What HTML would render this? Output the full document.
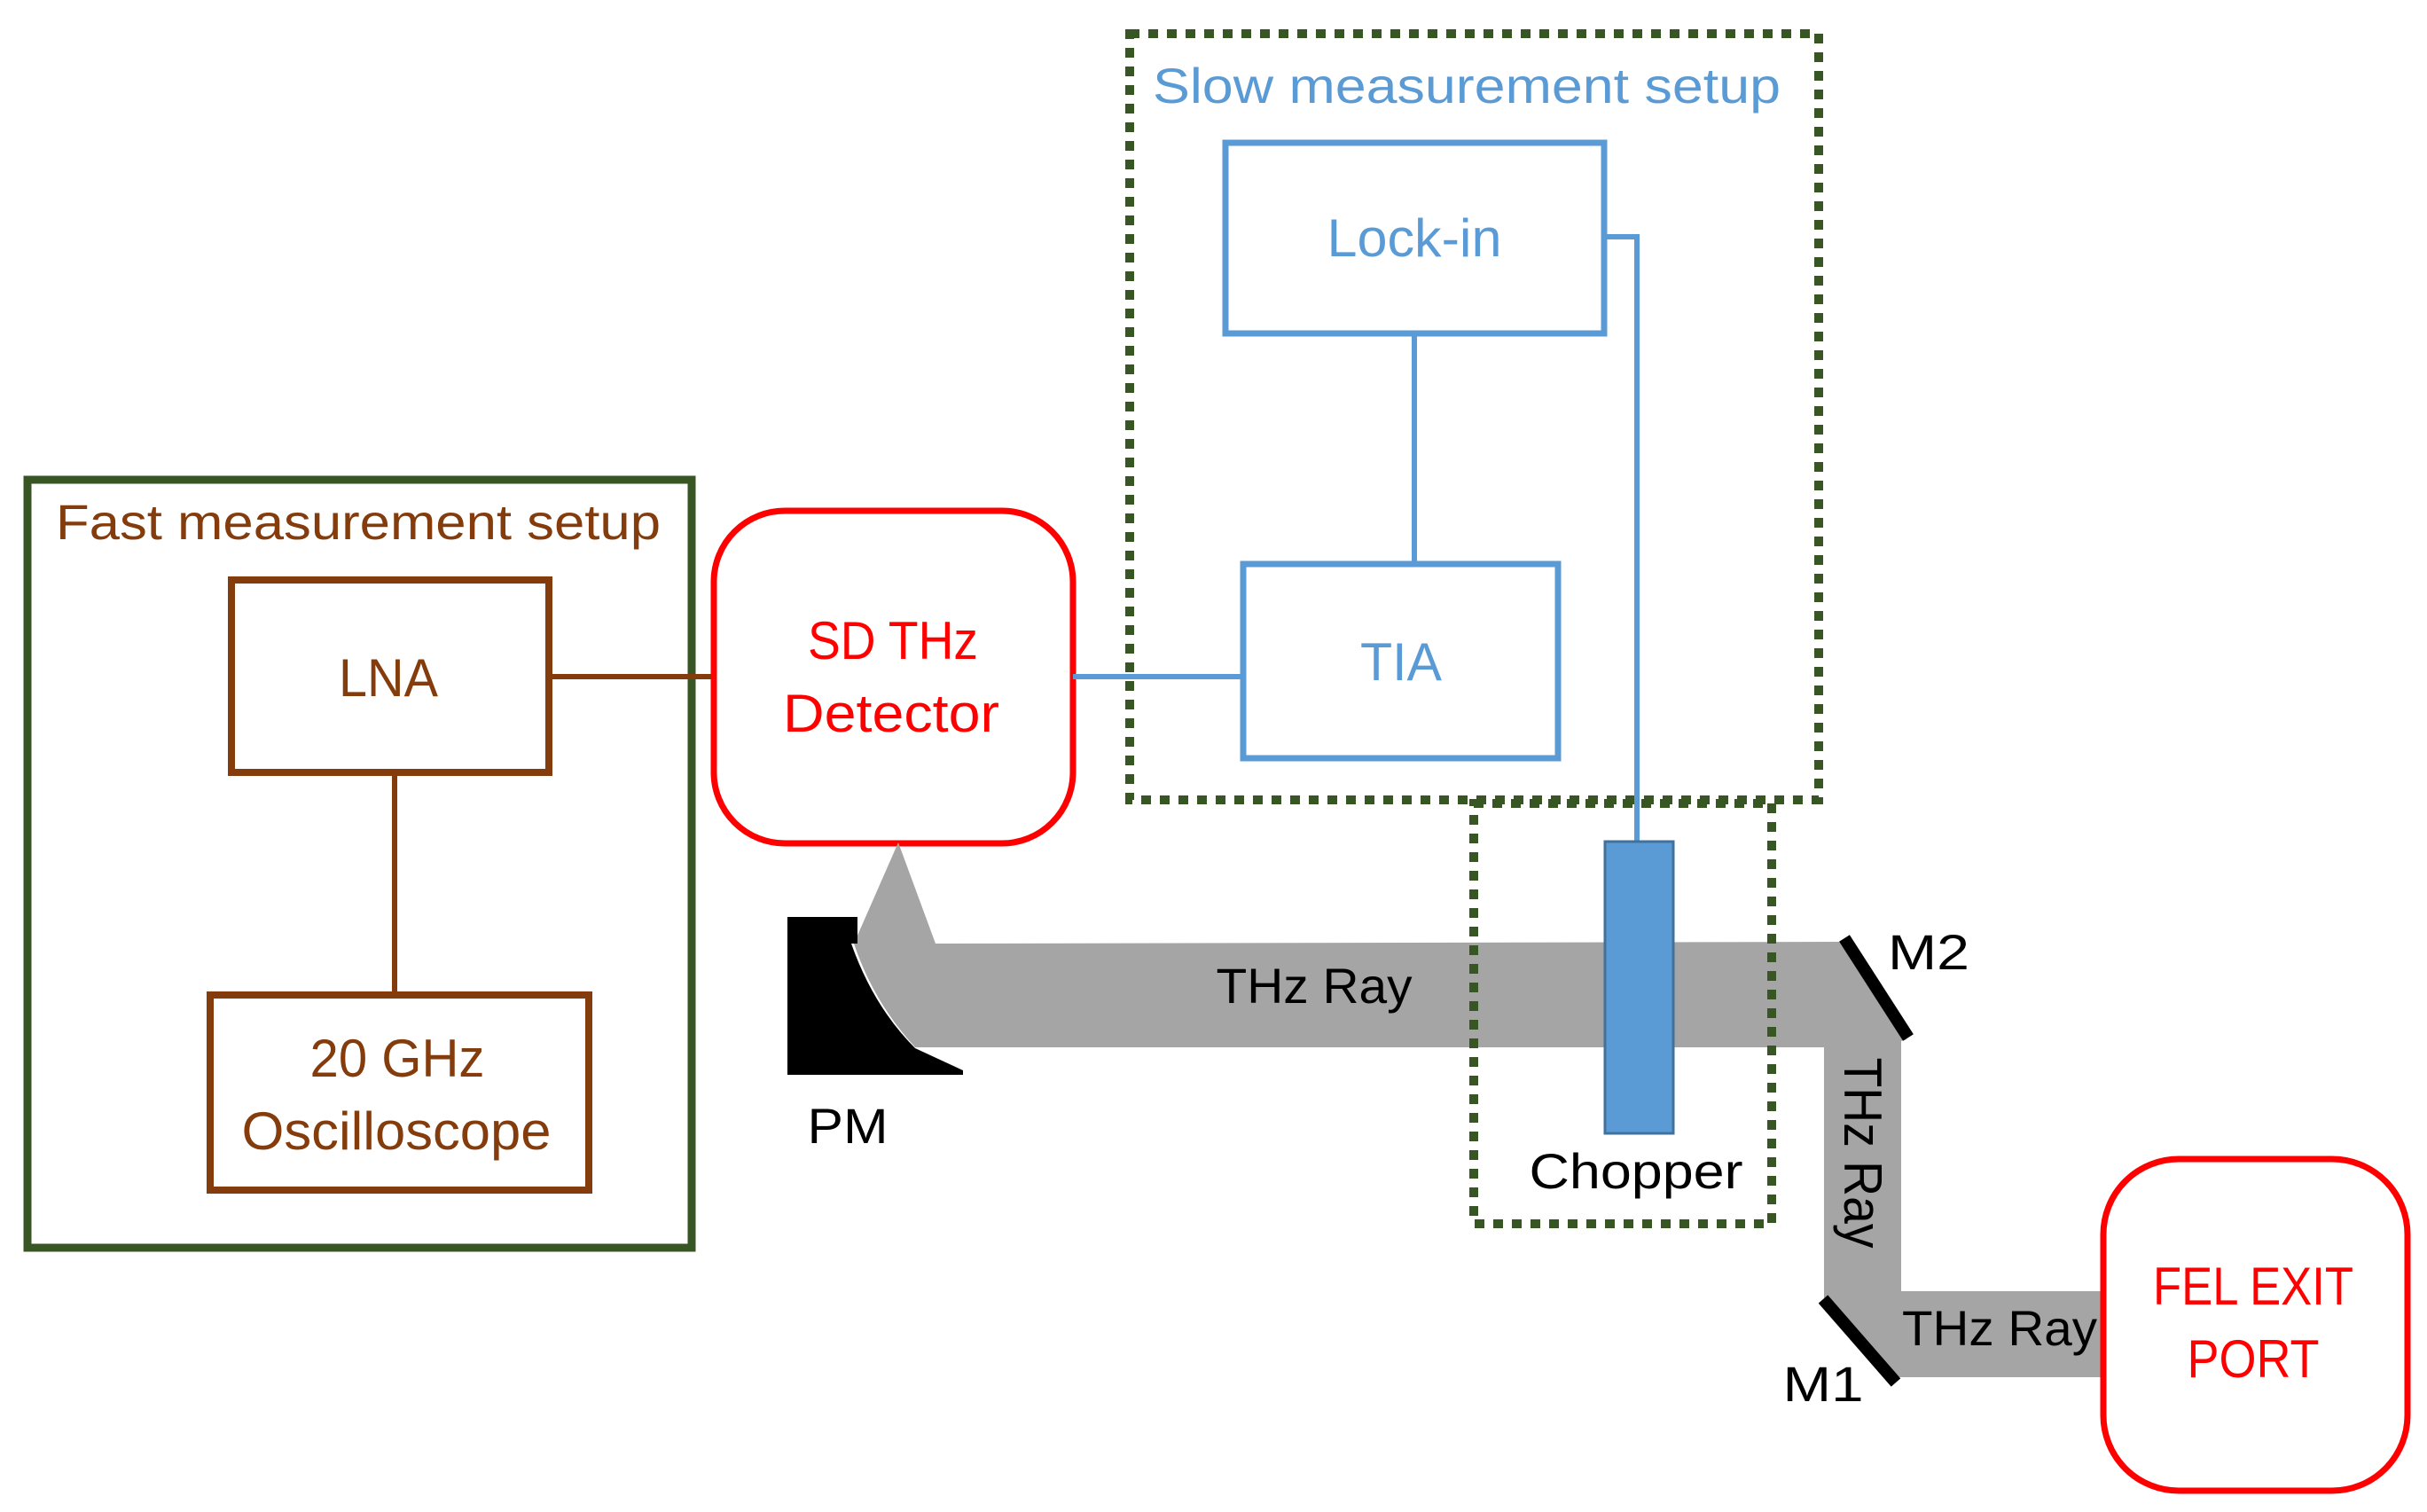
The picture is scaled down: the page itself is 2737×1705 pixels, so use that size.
<!DOCTYPE html>
<html><head><meta charset="utf-8"><style>html,body{margin:0;padding:0;background:#fff}svg{display:block}</style></head>
<body>
<svg width="2737" height="1705" viewBox="0 0 2737 1705" xmlns="http://www.w3.org/2000/svg" font-family="Liberation Sans, sans-serif">
<!-- Fast setup -->
<rect x="31" y="541" width="749" height="866" fill="none" stroke="#375623" stroke-width="9"/>
<text x="63" y="608" font-size="56" fill="#843C0C" textLength="682" lengthAdjust="spacingAndGlyphs">Fast measurement setup</text>
<rect x="261" y="654" width="358" height="217" fill="none" stroke="#843C0C" stroke-width="8"/>
<rect x="237" y="1122" width="427" height="220" fill="none" stroke="#843C0C" stroke-width="8"/>
<line x1="445" y1="871" x2="445" y2="1122" stroke="#843C0C" stroke-width="6"/>
<line x1="615" y1="763" x2="805" y2="763" stroke="#843C0C" stroke-width="6"/>
<text x="438" y="785" font-size="60" fill="#843C0C" text-anchor="middle" textLength="112" lengthAdjust="spacingAndGlyphs">LNA</text>
<text x="448" y="1214" font-size="60" fill="#843C0C" text-anchor="middle" textLength="197" lengthAdjust="spacingAndGlyphs">20 GHz</text>
<text x="447" y="1296" font-size="60" fill="#843C0C" text-anchor="middle" textLength="349" lengthAdjust="spacingAndGlyphs">Oscilloscope</text>
<!-- Detector -->
<rect x="805" y="576" width="405" height="375" rx="80" fill="none" stroke="#FF0000" stroke-width="7"/>
<text x="1007" y="743" font-size="60" fill="#FF0000" text-anchor="middle" textLength="192" lengthAdjust="spacingAndGlyphs">SD THz</text>
<text x="1005" y="825" font-size="60" fill="#FF0000" text-anchor="middle" textLength="244" lengthAdjust="spacingAndGlyphs">Detector</text>
<!-- Slow setup -->
<rect x="1274" y="38" width="777" height="864" fill="none" stroke="#375623" stroke-width="10" stroke-dasharray="11 10"/>
<text x="1300" y="116" font-size="56" fill="#5B9BD5" textLength="708" lengthAdjust="spacingAndGlyphs">Slow measurement setup</text>
<rect x="1382" y="161" width="427" height="215" fill="none" stroke="#5B9BD5" stroke-width="7"/>
<rect x="1402" y="636" width="355" height="219" fill="none" stroke="#5B9BD5" stroke-width="7"/>
<line x1="1595" y1="376" x2="1595" y2="636" stroke="#5B9BD5" stroke-width="6"/>
<line x1="1210" y1="763" x2="1402" y2="763" stroke="#5B9BD5" stroke-width="6"/>
<polyline points="1809,267 1846,267 1846,951" fill="none" stroke="#5B9BD5" stroke-width="6"/>
<text x="1595" y="289" font-size="60" fill="#5B9BD5" text-anchor="middle" textLength="197" lengthAdjust="spacingAndGlyphs">Lock-in</text>
<text x="1580" y="767" font-size="60" fill="#5B9BD5" text-anchor="middle" textLength="92" lengthAdjust="spacingAndGlyphs">TIA</text>
<!-- Rays -->
<path d="M963,1064 L1013,950 L1055,1064 L2077,1062 L2150,1172 L2144,1174 L2144,1456 L2369,1456 L2369,1553 L2137,1553 L2057,1468 L2057,1181 L1032,1181 Q985,1130 963,1064 Z" fill="#A5A5A5"/>
<!-- PM -->
<path d="M888,1034 L967,1034 L967,1064 L960,1064 Q985,1135 1032,1182 L1086,1207 L1086,1212 L888,1212 Z" fill="#000"/>
<!-- Chopper box -->
<rect x="1662" y="906" width="336" height="474" fill="none" stroke="#375623" stroke-width="10" stroke-dasharray="11 10"/>
<rect x="1810" y="949" width="77" height="329" fill="#5B9BD5" stroke="#41719C" stroke-width="3"/>
<text x="1845" y="1340" font-size="56" fill="#000" text-anchor="middle" textLength="241" lengthAdjust="spacingAndGlyphs">Chopper</text>
<!-- mirrors -->
<line x1="2080" y1="1058" x2="2152" y2="1170" stroke="#000" stroke-width="14"/>
<line x1="2056" y1="1465" x2="2138" y2="1559" stroke="#000" stroke-width="14"/>
<text x="1482" y="1131" font-size="56" fill="#000" text-anchor="middle" textLength="221" lengthAdjust="spacingAndGlyphs">THz Ray</text>
<text x="2255" y="1517" font-size="56" fill="#000" text-anchor="middle" textLength="220" lengthAdjust="spacingAndGlyphs">THz Ray</text>
<text transform="translate(2080,1300) rotate(90)" x="0" y="0" font-size="60" fill="#000" text-anchor="middle" textLength="215" lengthAdjust="spacingAndGlyphs">THz Ray</text>
<text x="2175" y="1093" font-size="56" fill="#000" text-anchor="middle" textLength="92" lengthAdjust="spacingAndGlyphs">M2</text>
<text x="2056" y="1580" font-size="56" fill="#000" text-anchor="middle" textLength="91" lengthAdjust="spacingAndGlyphs">M1</text>
<text x="956" y="1289" font-size="56" fill="#000" text-anchor="middle" textLength="91" lengthAdjust="spacingAndGlyphs">PM</text>
<!-- FEL -->
<rect x="2372" y="1307" width="343" height="374" rx="85" fill="none" stroke="#FF0000" stroke-width="7"/>
<text x="2541" y="1471" font-size="60" fill="#FF0000" text-anchor="middle" textLength="226" lengthAdjust="spacingAndGlyphs">FEL EXIT</text>
<text x="2541" y="1553" font-size="60" fill="#FF0000" text-anchor="middle" textLength="149" lengthAdjust="spacingAndGlyphs">PORT</text>
</svg>
</body></html>
